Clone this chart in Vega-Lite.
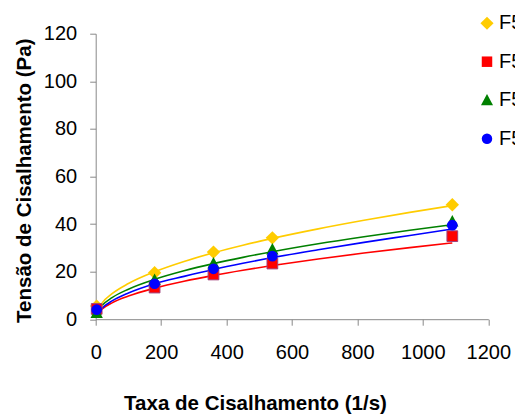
{
  "$schema": "https://vega.github.io/schema/vega-lite/v6.json",
  "width": 392.6,
  "height": 285.5,
  "autosize": {"type": "none"},
  "padding": {"left": 95.7, "top": 33.7, "right": 26.7, "bottom": 96.8},
  "background": "white",
  "config": {
    "view": {"stroke": null},
    "font": "Liberation Sans",
    "axis": {
      "grid": false,
      "domainColor": "#888888",
      "tickColor": "#888888",
      "tickSize": 6,
      "labelColor": "black",
      "labelFontSize": 20,
      "labelFont": "Liberation Sans",
      "titleFont": "Liberation Sans",
      "titleFontSize": 20.5,
      "titleFontWeight": "bold",
      "titleColor": "black",
      "labelFlush": false,
      "labelOverlap": false
    },
    "legend": {
      "padding": 0,
      "labelFontSize": 20,
      "labelColor": "black",
      "labelFont": "Liberation Sans",
      "labelOffset": 2,
      "rowPadding": 18.5,
      "symbolSize": 110,
      "symbolStrokeWidth": 0
    }
  },
  "datasets": {
    "curves": [
      {"series": "F5 A", "x": 5, "y": 3.51},
      {"series": "F5 A", "x": 20, "y": 6.87},
      {"series": "F5 A", "x": 50, "y": 10.71},
      {"series": "F5 A", "x": 100, "y": 14.99},
      {"series": "F5 A", "x": 180, "y": 19.93},
      {"series": "F5 A", "x": 270, "y": 24.26},
      {"series": "F5 A", "x": 360, "y": 27.9},
      {"series": "F5 A", "x": 450, "y": 31.09},
      {"series": "F5 A", "x": 540, "y": 33.97},
      {"series": "F5 A", "x": 680, "y": 37.97},
      {"series": "F5 A", "x": 820, "y": 41.58},
      {"series": "F5 A", "x": 960, "y": 44.89},
      {"series": "F5 A", "x": 1090, "y": 47.75},
      {"series": "F5 B", "x": 5, "y": 2.17},
      {"series": "F5 B", "x": 20, "y": 4.34},
      {"series": "F5 B", "x": 50, "y": 6.87},
      {"series": "F5 B", "x": 100, "y": 9.71},
      {"series": "F5 B", "x": 180, "y": 13.03},
      {"series": "F5 B", "x": 270, "y": 15.95},
      {"series": "F5 B", "x": 360, "y": 18.42},
      {"series": "F5 B", "x": 450, "y": 20.6},
      {"series": "F5 B", "x": 540, "y": 22.56},
      {"series": "F5 B", "x": 680, "y": 25.32},
      {"series": "F5 B", "x": 820, "y": 27.8},
      {"series": "F5 B", "x": 960, "y": 30.09},
      {"series": "F5 B", "x": 1090, "y": 32.06},
      {"series": "F5 C", "x": 5, "y": 3.0},
      {"series": "F5 C", "x": 20, "y": 5.84},
      {"series": "F5 C", "x": 50, "y": 9.06},
      {"series": "F5 C", "x": 100, "y": 12.63},
      {"series": "F5 C", "x": 180, "y": 16.75},
      {"series": "F5 C", "x": 270, "y": 20.35},
      {"series": "F5 C", "x": 360, "y": 23.36},
      {"series": "F5 C", "x": 450, "y": 26.0},
      {"series": "F5 C", "x": 540, "y": 28.38},
      {"series": "F5 C", "x": 680, "y": 31.71},
      {"series": "F5 C", "x": 820, "y": 34.67},
      {"series": "F5 C", "x": 960, "y": 37.42},
      {"series": "F5 C", "x": 1090, "y": 39.76},
      {"series": "F5 D", "x": 5, "y": 2.32},
      {"series": "F5 D", "x": 20, "y": 4.77},
      {"series": "F5 D", "x": 50, "y": 7.68},
      {"series": "F5 D", "x": 100, "y": 11.0},
      {"series": "F5 D", "x": 180, "y": 14.9},
      {"series": "F5 D", "x": 270, "y": 18.0},
      {"series": "F5 D", "x": 360, "y": 20.9},
      {"series": "F5 D", "x": 450, "y": 23.5},
      {"series": "F5 D", "x": 540, "y": 25.9},
      {"series": "F5 D", "x": 680, "y": 29.2},
      {"series": "F5 D", "x": 820, "y": 32.3},
      {"series": "F5 D", "x": 960, "y": 35.2},
      {"series": "F5 D", "x": 1090, "y": 37.9}
    ],
    "points": [
      {"series": "F5 A", "x": 3, "y": 5.5},
      {"series": "F5 A", "x": 180, "y": 19.5},
      {"series": "F5 A", "x": 360, "y": 28.2},
      {"series": "F5 A", "x": 540, "y": 34.2},
      {"series": "F5 A", "x": 1090, "y": 48.1},
      {"series": "F5 B", "x": 3, "y": 4.3},
      {"series": "F5 B", "x": 180, "y": 13.3},
      {"series": "F5 B", "x": 360, "y": 18.8},
      {"series": "F5 B", "x": 540, "y": 23.4},
      {"series": "F5 B", "x": 1090, "y": 34.9},
      {"series": "F5 C", "x": 3, "y": 2.6},
      {"series": "F5 C", "x": 180, "y": 16.5},
      {"series": "F5 C", "x": 360, "y": 23.4},
      {"series": "F5 C", "x": 540, "y": 29.3},
      {"series": "F5 C", "x": 1090, "y": 41.1},
      {"series": "F5 D", "x": 3, "y": 4.0},
      {"series": "F5 D", "x": 180, "y": 14.9},
      {"series": "F5 D", "x": 360, "y": 21.2},
      {"series": "F5 D", "x": 540, "y": 26.5},
      {"series": "F5 D", "x": 1090, "y": 39.5}
    ]
  },
  "layer": [
    {
      "data": {"name": "curves"},
      "mark": {"type": "line", "strokeWidth": 1.6, "interpolate": "monotone"},
      "encoding": {
        "x": {
          "field": "x", "type": "quantitative",
          "scale": {"domain": [0, 1200], "nice": false, "zero": false},
          "axis": {
            "values": [0, 200, 400, 600, 800, 1000, 1200],
            "format": "d",
            "title": "Taxa de Cisalhamento (1/s)",
            "labelPadding": 17,
            "titleX": 159.3, "titleY": 90.5,
            "titleAlign": "center", "titleBaseline": "alphabetic", "titleAnchor": null
          }
        },
        "y": {
          "field": "y", "type": "quantitative",
          "scale": {"domain": [0, 120], "nice": false},
          "axis": {
            "values": [0, 20, 40, 60, 80, 100, 120],
            "format": "d",
            "title": "Tensão de Cisalhamento (Pa)",
            "labelPadding": 13,
            "titleX": -65.7, "titleY": 146.5, "titleAngle": 270,
            "titleAlign": "center", "titleBaseline": "alphabetic", "titleAnchor": null
          }
        },
        "detail": {"field": "series", "type": "nominal"},
        "stroke": {
          "condition": [
            {"test": "datum.series === 'F5 A'", "value": "#FFCC00"},
            {"test": "datum.series === 'F5 B'", "value": "#FF0000"},
            {"test": "datum.series === 'F5 C'", "value": "#008000"}
          ],
          "value": "#0000FF"
        }
      }
    },
    {
      "data": {"name": "points"},
      "mark": {"type": "point", "filled": true, "opacity": 1, "size": 115, "strokeWidth": 1},
      "encoding": {
        "x": {"field": "x", "type": "quantitative"},
        "y": {"field": "y", "type": "quantitative"},
        "color": {
          "field": "series", "type": "nominal",
          "scale": {"domain": ["F5 A", "F5 B", "F5 C", "F5 D"], "range": ["#FFCC00", "#FF0000", "#008000", "#0000FF"]},
          "legend": {"title": null, "orient": "none", "legendX": 381.3, "legendY": -20.5}
        },
        "shape": {
          "field": "series", "type": "nominal",
          "scale": {"domain": ["F5 A", "F5 B", "F5 C", "F5 D"], "range": ["M-1.25,0L0,-1.25L1.25,0L0,1.25Z", "square", "M0,-1.2L1.15,0.95L-1.15,0.95Z", "circle"]},
          "legend": {"title": null, "orient": "none", "legendX": 381.3, "legendY": -20.5}
        },
        "stroke": {
          "condition": {"test": "datum.series === 'F5 B'", "value": "#A0407A"},
          "value": "transparent"
        }
      }
    }
  ]
}
